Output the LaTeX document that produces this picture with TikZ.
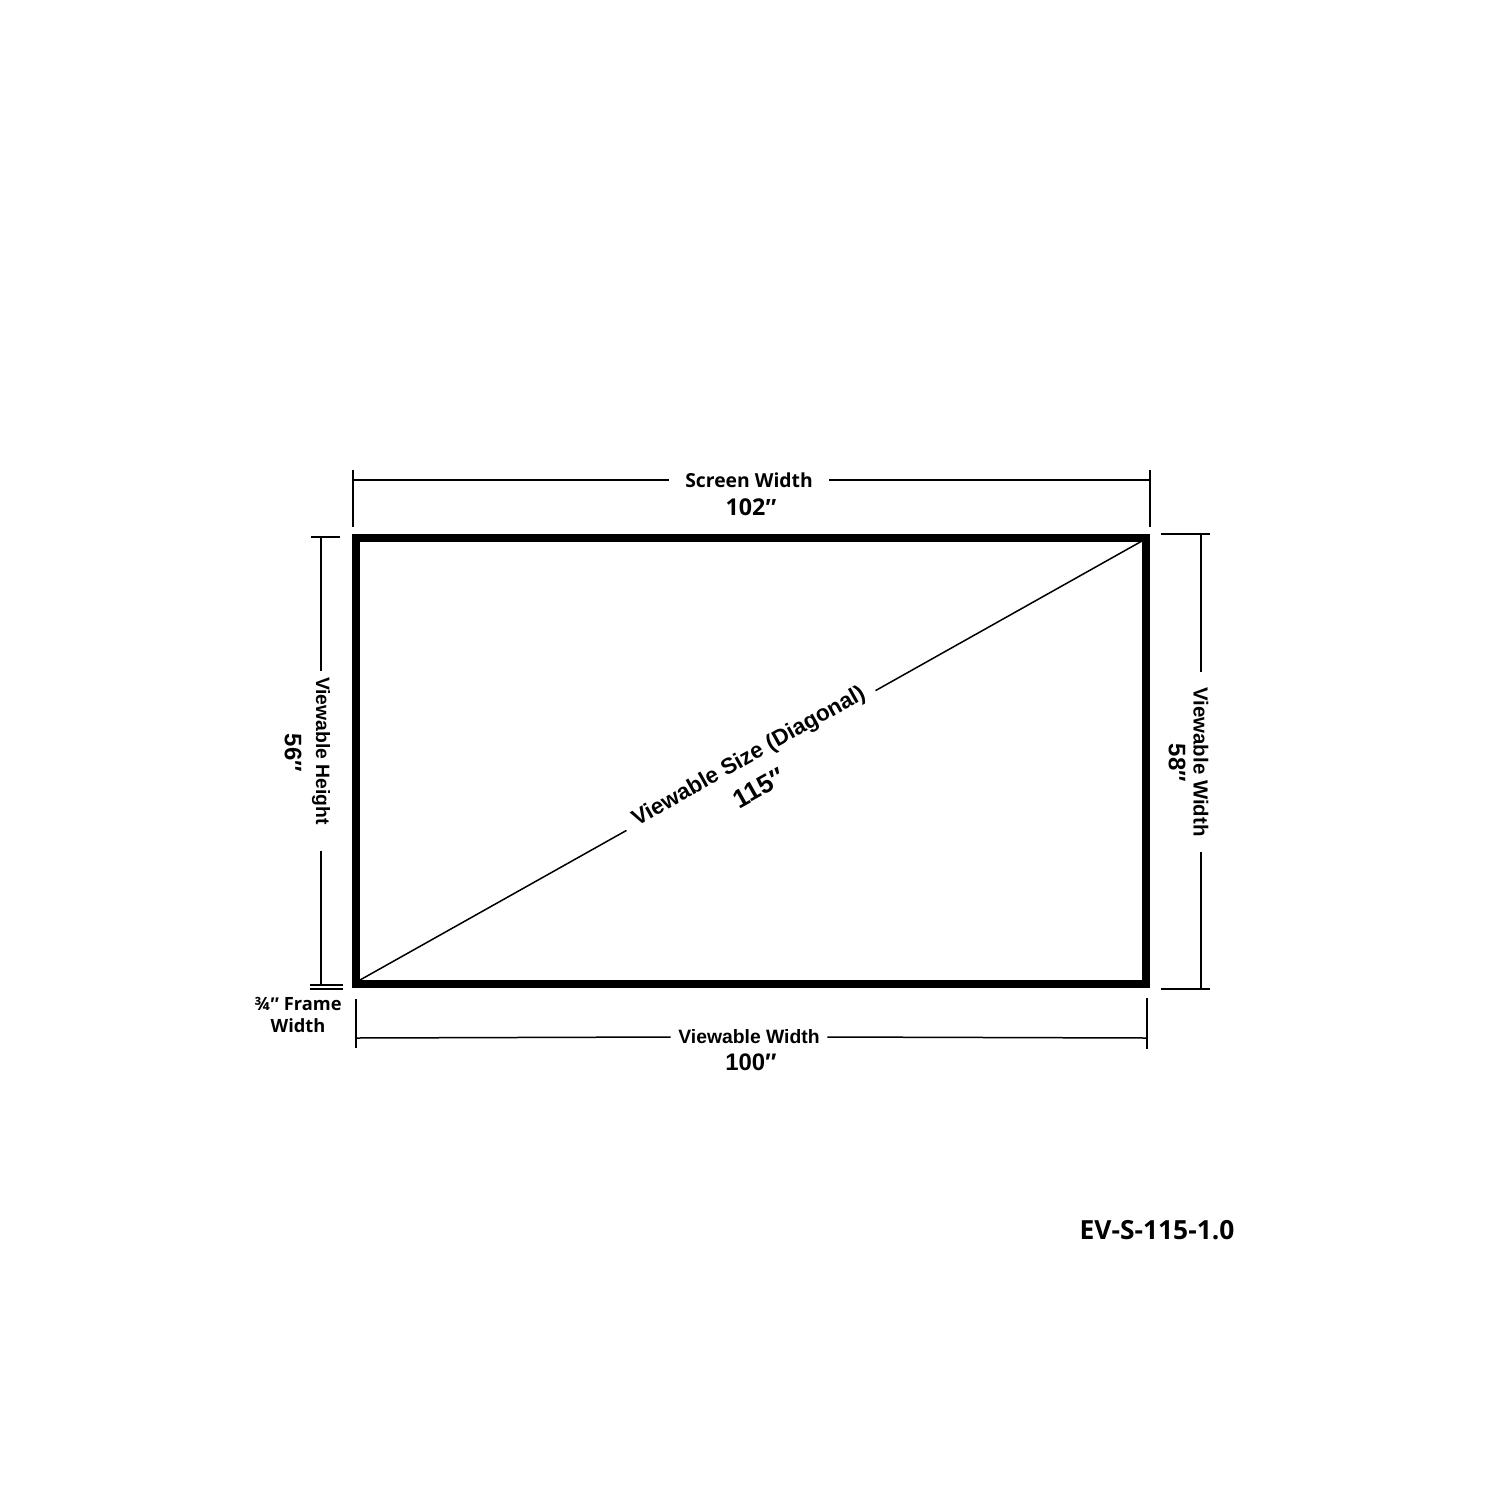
\documentclass[tikz,border=0pt]{standalone}
\usepackage{fontspec}
\setmainfont{Liberation Sans}
\newfontfamily\osans{Open Sans}
\newcommand\dprime{{\rmfamily\bfseries ″}}
\tikzset{
  dimline/.style={line width=0.15mm},
  frameline/.style={line width=0.8mm},
  oslabel/.style={font=\osans\bfseries\fontsize{5.5}{6.5}\selectfont, inner xsep=1.6mm, inner ysep=0.2mm},
  osnum/.style={font=\osans\bfseries\fontsize{6.6}{7.5}\selectfont, inner sep=0pt},
  vlabel/.style={font=\bfseries\fontsize{5.5}{6.5}\selectfont, inner xsep=0.7mm, inner ysep=0.2mm},
  vnum/.style={font=\bfseries\fontsize{6.8}{7.5}\selectfont, inner sep=0pt},
}
\begin{document}
\begin{tikzpicture}[x=0.1mm,y=-0.1mm]
\useasboundingbox (0,0) rectangle (1500,1500);

\draw[frameline] (356,538) rectangle (1146,984);
\coordinate (bl) at (360,980);
\coordinate (tr) at (1142,541);
\draw[dimline] (bl) -- (tr);
\node[vlabel,fill=white,font=\bfseries\fontsize{6.4}{7}\selectfont,inner xsep=1.1mm,rotate=29.3] (diag) at (749,757) {Viewable Size (Diagonal)};
\node[vnum,font=\bfseries\fontsize{7.4}{8}\selectfont,rotate=29.3] (diagnum) at (759,788) {115″};

\node[oslabel] (swl) at (749,480) {Screen Width};
\node[osnum] (swn) at (751,507) {102\dprime};
\draw[dimline] (353,480) -- (swl.west);
\draw[dimline] (swl.east) -- (1150,480);
\draw[dimline] (353,470) -- (353,527);
\draw[dimline] (1150,470) -- (1150,527);

\node[vlabel,rotate=-90,inner xsep=0.5mm] (vhl) at (321,751) {Viewable Height};
\node[vnum,rotate=-90] (vhn) at (293,753) {56″};
\draw[dimline] (311,537) -- (340,537);
\draw[dimline] (321,537) -- (vhl.west);
\draw[dimline] ([yshift=-2mm]vhl.east) -- (321,985);
\draw[dimline] (310,985) -- (343,985);
\draw[dimline] (310,989) -- (343,989);

\node[vlabel,rotate=-90,font=\bfseries\fontsize{5.8}{6.5}\selectfont,inner xsep=1.5mm] (vwr) at (1201,762) {Viewable Width};
\node[vnum,rotate=-90] (vwrn) at (1177,763) {58″};
\draw[dimline] (1161,534) -- (1210,534);
\draw[dimline] (1201,534) -- (vwr.west);
\draw[dimline] (vwr.east) -- (1201,989);
\draw[dimline] (1161,989) -- (1210,989);

\node[vlabel] (vwb) at (749,1037) {Viewable Width};
\node[vnum] (vwbn) at (751,1062) {100″};
\draw[dimline] (356,1038) -- (vwb.west);
\draw[dimline] (vwb.east) -- (1147,1038);
\draw[dimline] (356,999) -- (356,1048);
\draw[dimline] (1147,998) -- (1147,1049);

\node[oslabel,align=center,font=\osans\bfseries\fontsize{5.2}{6}\selectfont] (fw) at (298,1015) {¾\dprime{} Frame\\Width};

\node[osnum,font=\osans\bfseries\fontsize{7.5}{8}\selectfont] (model) at (1157,1230) {EV-S-115-1.0};
\end{tikzpicture}
\end{document}
